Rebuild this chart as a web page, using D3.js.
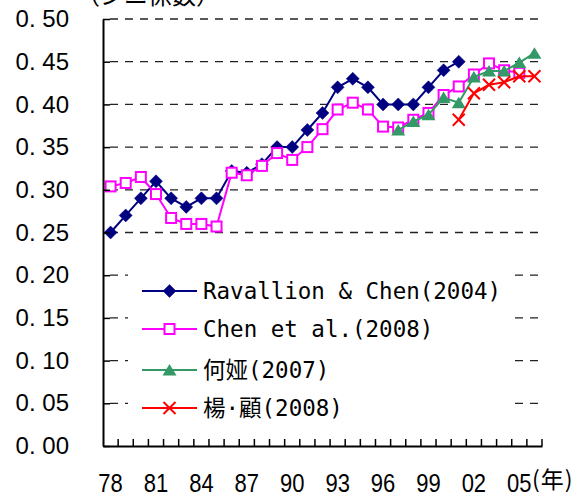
<!DOCTYPE html>
<html>
<head>
<meta charset="utf-8">
<script src="https://cdn.jsdelivr.net/npm/d3@7"></script>
<style>
  html, body { margin: 0; padding: 0; background: #fff; }
  svg { display: block; }
</style>
</head>
<body>
<svg id="chart" width="588" height="496"></svg>
<script>
// Years on the horizontal axis
const years = d3.range(1978, 2007);
const yearLabels = [1978, 1981, 1984, 1987, 1990, 1993, 1996, 1999, 2002, 2005];
const giniTicks = [0, 0.05, 0.10, 0.15, 0.20, 0.25, 0.30, 0.35, 0.40, 0.45, 0.50];

// Ravallion & Chen (2004), 1978-2001
const ravallionYears = d3.range(1978, 2002);
const ravallionValues = [0.25, 0.27, 0.29, 0.31, 0.29, 0.28, 0.29, 0.29, 0.322, 0.32, 0.33, 0.35,
                         0.35, 0.37, 0.39, 0.42, 0.43, 0.42, 0.40, 0.40, 0.40, 0.42, 0.44, 0.45];

// Chen et al. (2008), 1978-2005
const chenYears = d3.range(1978, 2006);
const chenValues = [0.304, 0.308, 0.315, 0.295, 0.267, 0.260, 0.260, 0.257, 0.320, 0.317, 0.328, 0.343,
                    0.335, 0.350, 0.371, 0.394, 0.402, 0.394, 0.374, 0.373, 0.382, 0.390, 0.411, 0.421,
                    0.435, 0.448, 0.440, 0.437];

// He Ya (2007), 1997-2006
const heYears = d3.range(1997, 2007);
const heValues = [0.370, 0.380, 0.388, 0.408, 0.402, 0.432, 0.439, 0.439, 0.449, 0.460];

// Yang & Gu (2008), 2001-2006
const yangYears = d3.range(2001, 2007);
const yangValues = [0.382, 0.413, 0.423, 0.426, 0.433, 0.433];

const series = [
  { name: "Ravallion & Chen(2004)", years: ravallionYears, values: ravallionValues, color: "#000080", marker: "diamond" },
  { name: "Chen et al.(2008)", years: chenYears, values: chenValues, color: "#FF00FF", marker: "square" },
  { name: "何娅(2007)", years: heYears, values: heValues, color: "#339966", marker: "triangle" },
  { name: "楊·顧(2008)", years: yangYears, values: yangValues, color: "#FF0000", marker: "cross" }
];

const svg = d3.select("#chart");
const plotLeft = 103, plotRight = 542, plotTop = 19, plotBottom = 446;

const x = d3.scaleBand().domain(years).range([plotLeft, plotRight]).paddingInner(0).paddingOuter(0);
const y = d3.scaleLinear().domain([0, 0.5]).range([plotBottom, plotTop]);
const cx = d => x(d) + x.bandwidth() / 2;

// Dashed horizontal gridlines
svg.append("g").selectAll("line")
  .data(giniTicks.filter(d => d > 0))
  .join("line")
  .attr("x1", plotLeft + 7).attr("x2", plotRight)
  .attr("y1", d => y(d)).attr("y2", d => y(d))
  .attr("stroke", "#222").attr("stroke-width", 1.3)
  .attr("stroke-dasharray", "8,7");

// Marker drawing
function drawMarker(sel, type, color) {
  if (type === "diamond") {
    sel.append("path").attr("d", "M0,-6.5L6.5,0L0,6.5L-6.5,0Z").attr("fill", color).attr("stroke", color).attr("stroke-width", 0.5);
  } else if (type === "square") {
    sel.append("rect").attr("x", -5).attr("y", -5).attr("width", 10).attr("height", 10)
      .attr("fill", "#fff").attr("stroke", color).attr("stroke-width", 2);
  } else if (type === "triangle") {
    sel.append("path").attr("d", "M0,-6L7,5.5L-7,5.5Z").attr("fill", color);
  } else if (type === "cross") {
    sel.append("path").attr("d", "M-6,-6L6,6M-6,6L6,-6").attr("stroke", color).attr("stroke-width", 2).attr("fill", "none");
  }
}

const line = d3.line().x(d => cx(d.year)).y(d => y(d.value));

// Series lines and markers
series.forEach(s => {
  const pts = s.years.map((yr, i) => ({ year: yr, value: s.values[i] }));
  const g = svg.append("g");
  g.append("path").datum(pts).attr("d", line)
    .attr("fill", "none").attr("stroke", s.color).attr("stroke-width", 2);
  g.selectAll("g.pt").data(pts).join("g").attr("class", "pt")
    .attr("transform", d => `translate(${cx(d.year)},${y(d.value)})`)
    .each(function () { drawMarker(d3.select(this), s.marker, s.color); });
});

// Y axis with inward ticks
const yAxis = d3.axisLeft(y).tickValues(giniTicks)
  .tickSizeInner(-7).tickSizeOuter(0).tickPadding(34)
  .tickFormat(d => d3.format(".2f")(d).replace(".", ". "));
const gy = svg.append("g").attr("transform", `translate(${plotLeft},0)`).call(yAxis);
gy.select(".domain").attr("stroke", "#000").attr("stroke-width", 2);
gy.selectAll(".tick line").attr("stroke", "#000").attr("stroke-width", 1.5);
gy.selectAll(".tick text").attr("font-family", "'Liberation Sans', Arial, sans-serif")
  .attr("font-size", 24).attr("fill", "#000");

// X axis: ticks at category boundaries, labels every three years
const xAxis = d3.axisBottom(x).tickValues(yearLabels).tickSize(0).tickPadding(28)
  .tickFormat(d => String(d).slice(2));
const gx = svg.append("g").attr("transform", `translate(0,${plotBottom})`).call(xAxis);
gx.select(".domain").attr("stroke", "#000").attr("stroke-width", 2);
gx.selectAll(".tick text").attr("font-family", "'Liberation Sans', Arial, sans-serif")
  .attr("font-size", 25).attr("fill", "#000")
  .attr("transform", "scale(0.88,1)");
svg.append("g").selectAll("line").data(years).join("line")
  .attr("x1", d => x(d) + x.bandwidth()).attr("x2", d => x(d) + x.bandwidth())
  .attr("y1", plotBottom).attr("y2", plotBottom - 7)
  .attr("stroke", "#000").attr("stroke-width", 1.5);

// Unit label for the x axis
svg.append("text").attr("x", 532).attr("y", 488)
  .attr("font-family", "'Noto Sans CJK JP', sans-serif").attr("font-size", 23)
  .attr("letter-spacing", 1)
  .text("(年)");

// Y-axis title (partly above the page top)
svg.append("text").attr("x", 76).attr("y", 4)
  .attr("font-family", "'Noto Sans CJK JP', sans-serif").attr("font-size", 24)
  .text("（ジニ係数）");

// Legend with opaque background
const legend = svg.append("g");
legend.append("rect").attr("x", 128).attr("y", 266).attr("width", 384).attr("height", 162).attr("fill", "#fff");
const rowY = [291, 329, 370, 408];
series.forEach((s, i) => {
  const g = legend.append("g").attr("transform", `translate(0,${rowY[i]})`);
  g.append("line").attr("x1", 142).attr("x2", 197).attr("y1", 0).attr("y2", 0)
    .attr("stroke", s.color).attr("stroke-width", 2);
  const m = g.append("g").attr("transform", "translate(169.5,0)");
  drawMarker(m, s.marker, s.color);
  g.append("text").attr("x", 203).attr("y", 8)
    .attr("font-family", "'DejaVu Sans Mono', 'Noto Sans CJK JP', monospace")
    .attr("font-size", 22.5).attr("fill", "#000")
    .text(s.name);
});
</script>
</body>
</html>
